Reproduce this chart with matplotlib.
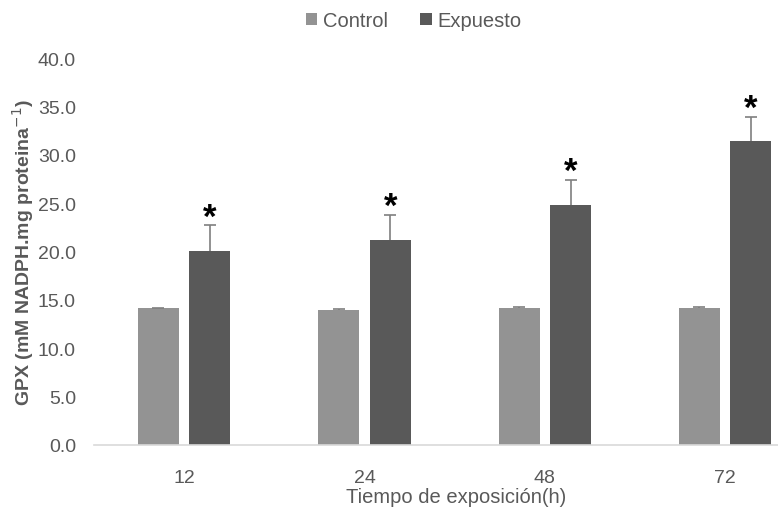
import matplotlib
matplotlib.use("Agg")
import matplotlib.pyplot as plt
import numpy as np

plt.rcParams['font.family'] = ['Liberation Sans', 'DejaVu Sans']

categories = ["12", "24", "48", "72"]
control = [14.15, 14.0, 14.15, 14.15]
control_err = [0.05, 0.1, 0.08, 0.08]
expuesto = [20.1, 21.2, 24.8, 31.4]
expuesto_err = [2.6, 2.6, 2.6, 2.55]
y_ticks = [0, 5, 10, 15, 20, 25, 30, 35, 40]

c_control = "#939393"
c_expuesto = "#595959"
c_text = "#595959"

fig = plt.figure(figsize=(7.78, 5.10), dpi=100)
ax = fig.add_axes([0.1208, 0.1255, 0.8792, 0.7588])

x = np.arange(len(categories))
w = 0.227
off = 0.1427

ax.bar(x - off, control, w, color=c_control, zorder=2, label="Control")
ax.bar(x + off, expuesto, w, color=c_expuesto, zorder=2, label="Expuesto")


def upper_errorbar(xs, ys, errs):
    # one-sided (upward) error bars with a cap only at the top
    _, caps, _ = ax.errorbar(xs, ys, yerr=[np.zeros(len(ys)), errs], fmt="none",
                             ecolor="#7f7f7f", elinewidth=1.2, capsize=4,
                             capthick=1.2, zorder=3)
    caps[0].set_visible(False)


upper_errorbar(x - off, control, control_err)
upper_errorbar(x + off, expuesto, expuesto_err)

for xi, v, e in zip(x + off, expuesto, expuesto_err):
    ax.annotate("*", (xi, v + e), xytext=(0, -6), textcoords="offset points",
                ha="center", va="bottom", fontsize=25, fontweight="bold", color="black")

ax.set_xlim(-0.5, 3.293)
ax.set_ylim(0, 40)
ax.set_yticks(y_ticks)
ax.set_yticklabels([f"{t:.1f}" for t in y_ticks])
ax.set_xticks(x)
ax.set_xticklabels(categories)
ax.tick_params(axis="both", length=0, labelsize=14, colors=c_text)
ax.tick_params(axis="x", pad=17)
ax.tick_params(axis="y", pad=13)

for s in ["top", "right", "left"]:
    ax.spines[s].set_visible(False)
ax.spines["bottom"].set_color("#d9d9d9")
ax.spines["bottom"].set_linewidth(1.2)

ax.set_xlabel("Tiempo de exposición(h)", fontsize=14.5, color=c_text)
ax.xaxis.set_label_coords(0.529, -0.108)
ax.set_ylabel("GPX (mM NADPH.mg proteina$^{-1}$)", fontsize=14, fontweight="bold",
              color=c_text)
ax.yaxis.set_label_coords(-0.085, 0.5)

leg = fig.legend(loc="upper center", bbox_to_anchor=(0.532, 1.012), ncol=2, frameon=False,
                 fontsize=14.5, handlelength=0.55, handleheight=0.55, handletextpad=0.3,
                 columnspacing=1.6)
for t in leg.get_texts():
    t.set_color(c_text)

fig.savefig("out.png", dpi=100)
